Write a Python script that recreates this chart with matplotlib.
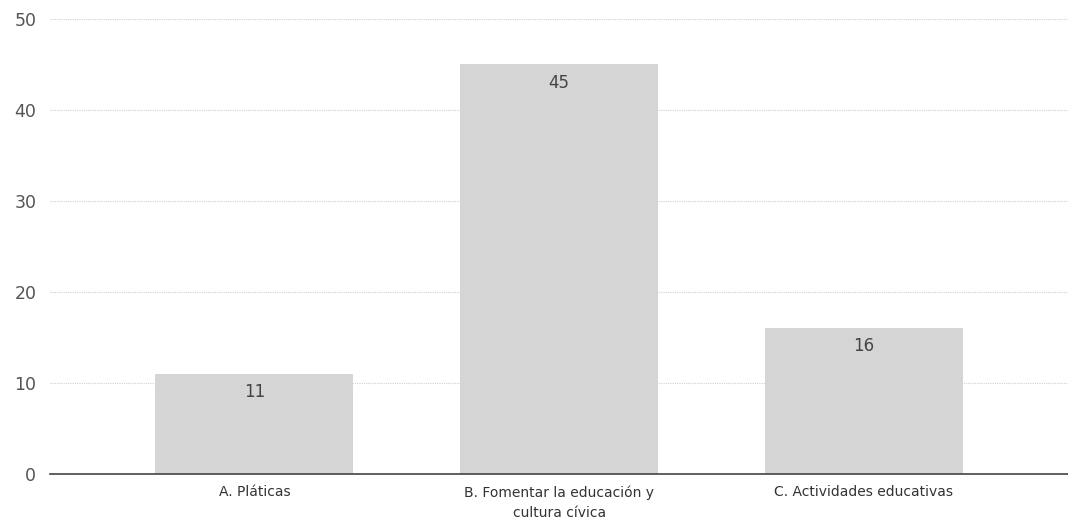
import matplotlib
matplotlib.use("Agg")
import matplotlib.pyplot as plt

categories = ["A. Pláticas", "B. Fomentar la educación y\ncultura cívica", "C. Actividades educativas"]
values = [11, 45, 16]
yticks = [0, 10, 20, 30, 40, 50]

plt.rcParams['font.family'] = ['Liberation Sans', 'DejaVu Sans']

fig = plt.figure(figsize=(10.68, 5.19), dpi=100)
ax = fig.add_axes([0.047, 0.0867, 0.953, 0.8767])

x = list(range(len(categories)))
bars = ax.bar(x, values, width=0.65, color="#d5d5d5", zorder=2)
for xi, v in zip(x, values):
    ax.annotate(str(v), (xi, v), xytext=(0, -13), textcoords="offset points",
                ha="center", va="center", fontsize=12, color="#444444",
                family=['DejaVu Sans'], zorder=3)

ax.set_xlim(-0.67, 2.67)
ax.set_ylim(0, 50)
ax.set_yticks(yticks)
ax.set_yticklabels([str(t) for t in yticks], fontsize=12.5, color="#555555",
                   family=['DejaVu Sans'])
ax.set_xticks(x)
ax.set_xticklabels(categories, fontsize=10, color="#333333", linespacing=1.6,
                   family=['DejaVu Sans'])
ax.tick_params(axis="both", length=0)
ax.tick_params(axis="y", pad=10)
ax.tick_params(axis="x", pad=8)

for s in ["top", "right", "left"]:
    ax.spines[s].set_visible(False)
ax.spines["bottom"].set_color("#444444")
ax.spines["bottom"].set_linewidth(1.2)
ax.spines["bottom"].set_zorder(4)

ax.yaxis.grid(True, color="#d0d0d0", linestyle=(0, (1, 1)), linewidth=0.8, zorder=1)
ax.set_axisbelow(True)

fig.savefig("out.png", dpi=100)
